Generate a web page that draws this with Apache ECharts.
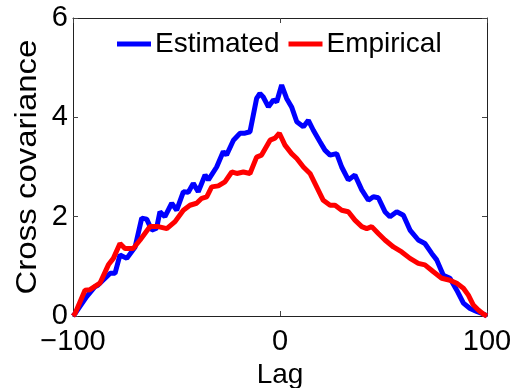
<!DOCTYPE html>
<html><head><meta charset="utf-8">
<script src="https://cdn.jsdelivr.net/npm/echarts@6/dist/echarts.min.js"></script>
<style>html,body{margin:0;padding:0;background:#fff}#c{width:515px;height:388px}</style>
</head><body><div id="c"></div>
<script>
const seriesNames = ["Estimated", "Empirical"];
const xAxisTitle = "Lag";
const yAxisTitle = "Cross covariance";
const xTicks = [-100, 0, 100];
const yTicks = [0, 2, 4, 6];
const estLag = [-100,-99,-93.4,-89.4,-88,-82,-79.7,-77.3,-74,-70,-66.8,-64.4,-62,-59.6,-58,-55.6,-52.3,-49.9,-46.7,-44.3,-41.9,-39.5,-36.2,-34.6,-30.6,-27.4,-25.8,-22.5,-19.3,-16.9,-14.5,-11.3,-9.7,-8.1,-5.6,-3.2,-1.6,0.8,3.2,5.6,8.1,11.3,13.7,16.1,19.3,21.7,24.2,27.4,29.8,33,36.2,39.5,42.7,45.1,47.5,50.7,53.1,56.4,59.6,62.8,66.8,70,73.3,75.7,78.9,82.1,85.4,88.6,91.8,95,98.2,100];
const estVal = [0,0.05,0.39,0.59,0.62,0.86,0.86,1.23,1.16,1.39,1.97,1.95,1.73,1.77,2.1,2.0,2.27,2.13,2.5,2.49,2.67,2.5,2.84,2.74,3.0,3.31,3.24,3.54,3.68,3.68,3.71,4.38,4.48,4.41,4.21,4.35,4.31,4.65,4.38,4.21,3.91,3.81,3.94,3.74,3.51,3.34,3.24,3.27,3.0,2.74,2.84,2.54,2.33,2.4,2.38,2.1,2.0,2.1,2.03,1.73,1.53,1.46,1.26,1.13,0.82,0.76,0.52,0.26,0.15,0.09,0.04,0];
const empLag = [-100,-99,-94.2,-91.8,-87,-82.9,-80.5,-77.3,-74.9,-70.9,-67.6,-62.8,-58.8,-54.7,-50.7,-46.7,-43.5,-40.3,-37.8,-35.4,-33,-29.8,-26.6,-23.3,-20.9,-17.7,-14.5,-11.3,-8.9,-4.8,-2.4,-0.3,2.4,5.6,8.1,11.3,14.5,17.7,20.9,24.2,26.6,29.8,33,36.2,39.5,41.9,44.3,47.5,50.7,54.8,58.8,62.8,66.8,70,74.1,78.1,82.1,85.4,88.6,91,93.4,95.8,98.2,100];
const empVal = [0,0.05,0.52,0.53,0.66,1.03,1.16,1.46,1.36,1.36,1.53,1.8,1.8,1.76,1.9,2.13,2.23,2.27,2.37,2.4,2.6,2.62,2.7,2.9,2.87,2.9,2.87,3.2,3.24,3.54,3.58,3.68,3.44,3.27,3.17,3.0,2.87,2.6,2.33,2.23,2.23,2.13,2.1,1.93,1.8,1.76,1.8,1.66,1.53,1.39,1.29,1.16,1.06,1.03,0.89,0.76,0.72,0.66,0.56,0.42,0.22,0.12,0.04,0];

const FONT = '"Liberation Sans", Arial, sans-serif';
const zip = (a, b) => a.map((v, i) => [v, b[i]]);
const fmt = v => String(v).replace('-', '\u2212');
const axisCommon = {
  axisLine: {show: true, onZero: false, lineStyle: {color: '#222', width: 1}},
  axisTick: {show: true, inside: true, length: 5, lineStyle: {color: '#444', width: 1}},
  splitLine: {show: false}
};
const chart = echarts.init(document.getElementById('c'));
chart.setOption({
  animation: false,
  backgroundColor: '#fff',
  grid: {left: 73, right: 28, top: 18, bottom: 72, containLabel: false, outerBoundsMode: 'none'},
  legend: {
    left: 112, top: 25, itemWidth: 34, itemHeight: 5, itemGap: 9,
    icon: 'rect',
    textStyle: {fontFamily: FONT, fontSize: 28, color: '#000', padding: [0,0,0,-1]},
    data: seriesNames
  },
  graphic: [{
    type: 'text', x: 28, y: 167, rotation: Math.PI / 2, scaleX: 1.1,
    style: {text: yAxisTitle, font: '30px ' + FONT, fill: '#000', align: 'center', verticalAlign: 'middle'}
  }],
  xAxis: [
    Object.assign({type: 'value', min: xTicks[0], max: xTicks[xTicks.length-1], interval: 100,
      name: xAxisTitle, nameLocation: 'middle', nameGap: 41,
      nameTextStyle: {fontFamily: FONT, fontSize: 28, color: '#000'},
      axisLabel: {fontFamily: FONT, fontSize: 29, color: '#000', margin: 11, formatter: fmt}}, axisCommon),
    Object.assign({type: 'value', position: 'top', min: -100, max: 100, interval: 100,
      axisLabel: {show: false}}, axisCommon)
  ],
  yAxis: [
    Object.assign({type: 'value', min: yTicks[0], max: yTicks[yTicks.length-1], interval: 2,
      axisLabel: {fontFamily: FONT, fontSize: 29, color: '#000', margin: 5, padding: [4,0,0,0]}}, axisCommon),
    Object.assign({type: 'value', position: 'right', min: 0, max: 6, interval: 2,
      axisLabel: {show: false}}, axisCommon)
  ],
  series: [
    {name: seriesNames[0], type: 'line', data: zip(estLag, estVal), showSymbol: false,
     lineStyle: {color: '#0000ff', width: 5}, itemStyle: {color: '#0000ff'}, z: 2},
    {name: seriesNames[1], type: 'line', data: zip(empLag, empVal), showSymbol: false,
     lineStyle: {color: '#ff0000', width: 5}, itemStyle: {color: '#ff0000'}, z: 3}
  ]
});
</script></body></html>
